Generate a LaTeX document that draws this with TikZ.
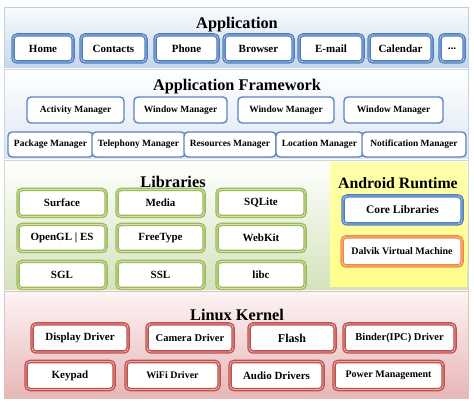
\documentclass[tikz,border=0pt]{standalone}
\usepackage{fontspec}
\setmainfont{Liberation Serif}
\definecolor{bblue}{HTML}{4F7FBF}
\definecolor{bbluel}{HTML}{A9C2E4}
\definecolor{bgreen}{HTML}{9BBB59}
\definecolor{bgreenl}{HTML}{D2E2B0}
\definecolor{bred}{HTML}{C0504D}
\definecolor{bredl}{HTML}{E8AEAC}
\definecolor{borange}{HTML}{F0883E}
\definecolor{borangel}{HTML}{F9C9A4}
\definecolor{fwblue}{HTML}{5A85C2}
\definecolor{apptop}{HTML}{FAFCFE}
\definecolor{appbot}{HTML}{C4D6EC}
\definecolor{appedge}{HTML}{BED0E6}
\definecolor{fwbot}{HTML}{DCE6F2}
\definecolor{fwedge}{HTML}{C8D6E8}
\definecolor{libbot}{HTML}{D4E3BC}
\definecolor{libedge}{HTML}{CDDCB9}
\definecolor{krtop}{HTML}{FDF4F4}
\definecolor{krbot}{HTML}{E8B6B6}
\definecolor{kredge}{HTML}{E2BEBE}
\definecolor{yeltop}{HTML}{FFFFAA}
\definecolor{yelbot}{HTML}{FFFF8C}
\tikzset{
  basebox/.style={fill=white, rounded corners=4pt, inner sep=0pt, align=center, font=\bfseries\fontsize{11}{12}\selectfont},
  appbox/.style={basebox, draw=bblue, double=bbluel, double distance=0.9pt, line width=1.3pt},
  fwbox/.style={basebox, draw=fwblue, line width=1.4pt, font=\bfseries\fontsize{9.5}{11}\selectfont},
  libbox/.style={basebox, draw=bgreen, double=bgreenl, double distance=0.9pt, line width=1.3pt},
  krbox/.style={basebox, draw=bred, double=bredl, double distance=0.9pt, line width=1.3pt},
  orbox/.style={basebox, draw=borange, double=borangel, double distance=0.9pt, line width=1.3pt},
  title/.style={font=\bfseries\fontsize{16.3}{18}\selectfont, inner sep=0pt}
}
\begin{document}
\begin{tikzpicture}[x=1pt,y=-1pt]
\useasboundingbox (0,0) rectangle (474,403);
\fill[white] (0,0) rectangle (474,403);
% bands
\shade[top color=apptop, bottom color=appbot] (4,7) rectangle (468,69);
\draw[appedge, line width=0.8pt] (4,7) rectangle (468,69);
\shade[top color=white, bottom color=fwbot] (4,69) rectangle (468,160);
\draw[fwedge, line width=0.8pt] (4,69) rectangle (468,160);
\shade[top color=white, bottom color=libbot] (4,160) rectangle (468,291);
\draw[libedge, line width=0.8pt] (4,160) rectangle (468,291);
\shade[top color=krtop, bottom color=krbot] (4,291) rectangle (468,398);
\draw[kredge, line width=0.8pt] (4,291) rectangle (468,398);
% android runtime background
\shade[top color=yeltop, bottom color=yelbot] (330,163) rectangle (467,287);

% titles
\node[title] (tapp) at (237,25) {Application};
\node[title] (tfw) at (237,87) {Application Framework};
\node[title] (tlib) at (173,182) {Libraries};
\node[title, font=\bfseries\fontsize{15.8}{18}\selectfont] (tart) at (398,183) {Android Runtime};
\node[title] (tker) at (237,315) {Linux Kernel};

% application
\node[appbox, minimum width=60pt, minimum height=27pt] (home) at (43,48.5) {Home};
\node[appbox, minimum width=65pt, minimum height=27pt] (contacts) at (113.5,48.5) {Contacts};
\node[appbox, minimum width=63pt, minimum height=27pt] (phone) at (186.5,48.5) {Phone};
\node[appbox, minimum width=69pt, minimum height=27pt] (browser) at (258.5,48.5) {Browser};
\node[appbox, minimum width=64pt, minimum height=27pt] (email) at (331,48.5) {E-mail};
\node[appbox, minimum width=63pt, minimum height=27pt] (calendar) at (400.5,48.5) {Calendar};
\node[appbox, minimum width=24pt, minimum height=27pt] (more) at (452,48.5) {\raisebox{-2pt}{...}};

% framework
\node[fwbox, minimum width=97pt, minimum height=26pt] (activity) at (75.5,110) {Activity Manager};
\node[fwbox, minimum width=93pt, minimum height=26pt] (window1) at (180.5,110) {Window Manager};
\node[fwbox, minimum width=96pt, minimum height=26pt] (window2) at (286,110) {Window Manager};
\node[fwbox, minimum width=99pt, minimum height=26pt] (window3) at (393.5,110) {Window Manager};
\node[fwbox, minimum width=85pt, minimum height=25pt] (package) at (50.5,144.5) {Package Manager};
\node[fwbox, minimum width=93pt, minimum height=25pt] (telephony) at (138.5,144.5) {Telephony Manager};
\node[fwbox, minimum width=92pt, minimum height=25pt] (resources) at (230,144.5) {Resources Manager};
\node[fwbox, minimum width=87pt, minimum height=25pt] (location) at (319.5,144.5) {Location Manager};
\node[fwbox, minimum width=104pt, minimum height=25pt] (notification) at (414,144.5) {Notification Manager};

% libraries
\node[libbox, minimum width=88pt, minimum height=27pt] (surface) at (62,203) {Surface};
\node[libbox, minimum width=87pt, minimum height=27pt] (media) at (160.5,203) {Media};
\node[libbox, minimum width=88pt, minimum height=27pt] (sqlite) at (261,203) {SQLite};
\node[libbox, minimum width=88pt, minimum height=27pt] (opengl) at (62,238) {OpenGL | ES};
\node[libbox, minimum width=87pt, minimum height=27pt] (freetype) at (160.5,238) {FreeType};
\node[libbox, minimum width=88pt, minimum height=27pt] (webkit) at (261,238) {WebKit};
\node[libbox, minimum width=88pt, minimum height=27pt] (sgl) at (62,275) {SGL};
\node[libbox, minimum width=87pt, minimum height=27pt] (ssl) at (160.5,275) {SSL};
\node[libbox, minimum width=88pt, minimum height=27pt] (libc) at (261,275) {libc};

% android runtime
\node[appbox, minimum width=119pt, minimum height=28pt, font=\bfseries\fontsize{11.5}{13}\selectfont] (core) at (402.5,210) {Core Libraries};
\node[orbox, minimum width=120pt, minimum height=29pt, font=\bfseries\fontsize{10}{12}\selectfont] (dalvik) at (402,251.5) {Dalvik Virtual Machine};

% kernel
\node[krbox, minimum width=96pt, minimum height=28pt] (display) at (80,338) {Display Driver};
\node[krbox, minimum width=86pt, minimum height=28pt, font=\bfseries\fontsize{10.5}{12}\selectfont] (camera) at (190,338) {Camera Driver};
\node[krbox, minimum width=86pt, minimum height=28pt, font=\bfseries\fontsize{12}{13}\selectfont] (flash) at (292,338) {Flash};
\node[krbox, minimum width=111pt, minimum height=28pt, font=\bfseries\fontsize{10.5}{12}\selectfont] (binder) at (399.5,338) {Binder(IPC) Driver};
\node[krbox, minimum width=88pt, minimum height=28pt] (keypad) at (70,375.5) {Keypad};
\node[krbox, minimum width=93pt, minimum height=28pt, font=\bfseries\fontsize{10}{12}\selectfont] (wifi) at (172.5,375.5) {WiFi Driver};
\node[krbox, minimum width=93pt, minimum height=28pt] (audio) at (276.5,375.5) {Audio Drivers};
\node[krbox, minimum width=109pt, minimum height=28pt, font=\bfseries\fontsize{10}{12}\selectfont] (power) at (388.5,375.5) {Power Management};
\end{tikzpicture}
\end{document}
